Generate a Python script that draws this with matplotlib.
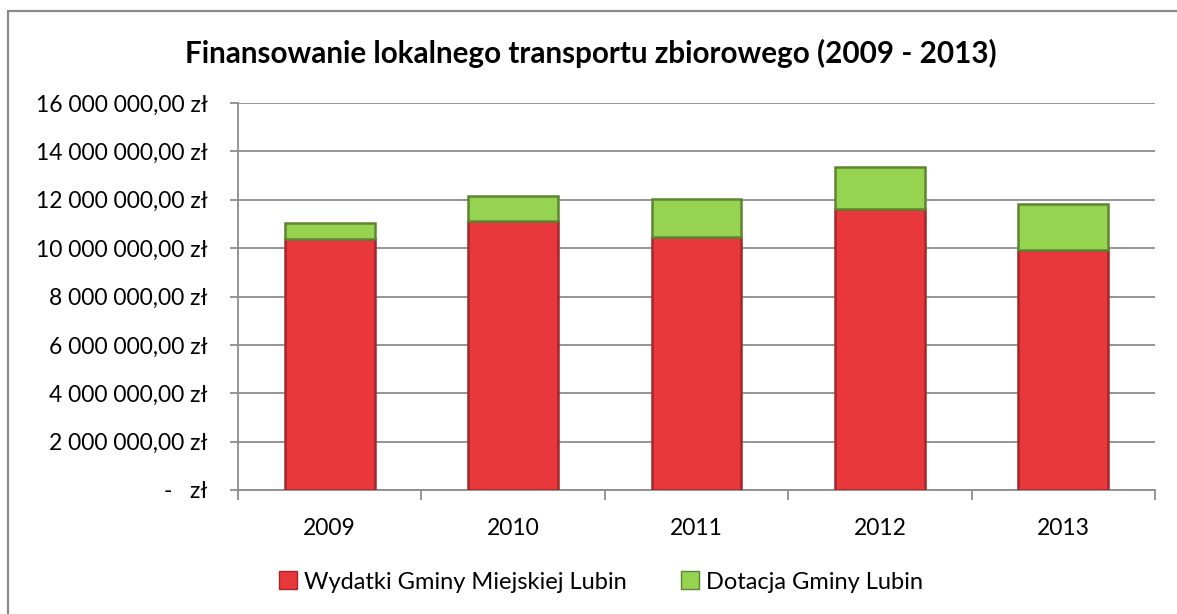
import numpy as np
import matplotlib
matplotlib.use("Agg")
from matplotlib import pyplot as plt
from matplotlib.ticker import FuncFormatter, MultipleLocator
from matplotlib.patches import Patch
from matplotlib.lines import Line2D

years = ["2009", "2010", "2011", "2012", "2013"]
wydatki = [10.39e6, 11.13e6, 10.47e6, 11.63e6, 9.94e6]
dotacja = [0.66e6, 1.03e6, 1.57e6, 1.73e6, 1.89e6]
labels = ["Wydatki Gminy Miejskiej Lubin", "Dotacja Gminy Lubin"]
title = "Finansowanie lokalnego transportu zbiorowego (2009 - 2013)"

plt.rcParams["font.family"] = ["Lato", "DejaVu Sans"]

fig = plt.figure(figsize=(11.77, 6.14), dpi=100)
W, H = 1177, 614
ax = fig.add_axes([238 / W, 1 - 490 / H, (1155 - 238) / W, (490 - 103) / H])

# chart frame (left and top edges only, the rest is cropped)
fig.add_artist(Line2D([8 / W, 8 / W, 1.02], [-0.02, 1 - 11 / H, 1 - 11 / H],
                      transform=fig.transFigure, color="#8a8a8a", linewidth=1.6,
                      solid_joinstyle="miter"))

x = np.arange(len(years))
red = "#E8383B"
green = "#96D351"
ax.bar(x, wydatki, width=0.49, color=red, edgecolor="#a52628", linewidth=1.8, zorder=3)
ax.bar(x, dotacja, bottom=wydatki, width=0.49, color=green, edgecolor="#5d8530",
       linewidth=1.8, zorder=3)

ax.set_xlim(-0.5, len(years) - 0.5)
ax.set_ylim(0, 16e6)
ax.yaxis.set_major_locator(MultipleLocator(2e6))


def fmt(v, pos):
    if v == 0:
        return "-   zł"
    s = f"{v:,.2f}".replace(",", " ").replace(".", ",")
    return s + " zł"


ax.yaxis.set_major_formatter(FuncFormatter(fmt))
ax.grid(axis="y", color="#8c8c8c", linewidth=1.3, zorder=0)
ax.set_axisbelow(True)

for side in ["top", "right"]:
    ax.spines[side].set_visible(False)
for side in ["left", "bottom"]:
    ax.spines[side].set_color("#8c8c8c")
    ax.spines[side].set_linewidth(1.3)

ax.set_xticks(x)
ax.set_xticklabels(years)
ax.set_xticks(np.arange(-0.5, len(years)), minor=True)
ax.tick_params(axis="x", which="major", length=0, pad=20, labelsize=16.5)
ax.tick_params(axis="x", which="minor", length=7, color="#8c8c8c", width=1.3)
ax.tick_params(axis="y", length=5.8, color="#8c8c8c", width=1.3, pad=16, labelsize=16.5)

fig.text(0.502, 1 - 53 / H, title, ha="center", va="center", fontsize=21.3, fontweight="bold")

handles = [Patch(facecolor=red, edgecolor="#a52628"), Patch(facecolor=green, edgecolor="#5d8530")]
fig.legend(handles, labels, loc="center", bbox_to_anchor=(601 / W, 1 - 582 / H), ncol=2,
           frameon=False, fontsize=17, handlelength=0.77, handleheight=0.77,
           handletextpad=0.3, columnspacing=2.3)

fig.savefig("out.png", dpi=100)
